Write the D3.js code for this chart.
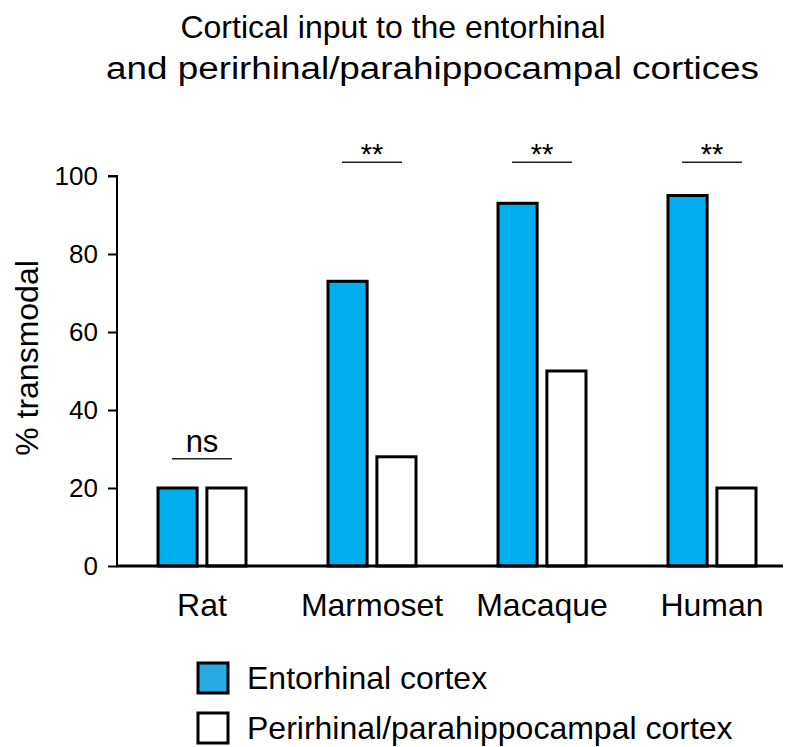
<html>
<head>
<script src="https://cdn.jsdelivr.net/npm/d3@7"></script>
</head>
<body style="margin:0; padding:0; background:#fff;">
<script>
// data
var species = ["Rat", "Marmoset", "Macaque", "Human"];
var series = ["Entorhinal cortex", "Perirhinal/parahippocampal cortex"];
var entorhinal = [20, 73, 93, 95];
var perirhinal = [20, 28, 50, 20];
var sigLabels = ["ns", "**", "**", "**"];
var sigLevel = [27.5, 103.5, 103.5, 103.5];
var yTicks = [0, 20, 40, 60, 80, 100];
var titleLines = ["Cortical input to the entorhinal", "and perirhinal/parahippocampal cortices"];

var width = 787, height = 747;
var font = "'Liberation Sans', Arial, Helvetica, sans-serif";
var fills = ["#00aeef", "#ffffff"];
var legendFills = ["#27aae1", "#ffffff"];

var svg = d3.select("body").append("svg")
	.attr("width", width)
	.attr("height", height)
	.style("font-family", font);

var y = d3.scaleLinear().domain([0, 100]).range([566, 176]);
var x = d3.scalePoint().domain(species).range([117, 797]).padding(0.5);
var xs = d3.scaleBand().domain(series).range([-44, 44]).paddingInner(0.2);

// title (second line is set wider in the original)
svg.append("text")
	.attr("x", 393).attr("y", 38)
	.attr("text-anchor", "middle")
	.style("font-size", "32px")
	.text(titleLines[0]);
svg.append("text")
	.attr("x", 106).attr("y", 79)
	.attr("textLength", 653)
	.attr("lengthAdjust", "spacingAndGlyphs")
	.style("font-size", "31px")
	.text(titleLines[1]);

// y axis
var yAxis = svg.append("g")
	.attr("transform", "translate(117,0)")
	.call(d3.axisLeft(y).tickValues(yTicks).tickSize(9).tickPadding(10));
yAxis.select(".domain").attr("d", "M-9," + y(100) + "H0V" + y(0)).attr("stroke-width", 2);
yAxis.selectAll(".tick line").attr("stroke-width", 2);
yAxis.selectAll(".tick text").style("font-size", "26px").style("font-family", font).attr("fill", "#000");

svg.append("text")
	.attr("transform", "translate(38," + 358 + ") rotate(-90)")
	.attr("text-anchor", "middle")
	.style("font-size", "32px")
	.text("% transmodal");

// bars
var rows = species.map(function (s, i) {
	return { name: s, vals: [entorhinal[i], perirhinal[i]] };
});

var groups = svg.selectAll(".grp").data(rows).enter()
	.append("g")
		.attr("class", "grp")
		.attr("transform", function (d) { return "translate(" + x(d.name) + ",0)"; });

groups.selectAll("rect").data(function (d) {
		return d.vals.map(function (v, j) { return { s: series[j], v: v, j: j }; });
	}).enter()
	.append("rect")
		.attr("x", function (d) { return xs(d.s); })
		.attr("y", function (d) { return y(d.v); })
		.attr("width", xs.bandwidth())
		.attr("height", function (d) { return y(0) - y(d.v); })
		.attr("fill", function (d) { return fills[d.j]; })
		.attr("stroke", "#000")
		.attr("stroke-width", 3);

// baseline
svg.append("line")
	.attr("x1", 116).attr("x2", 783)
	.attr("y1", y(0)).attr("y2", y(0))
	.attr("stroke", "#000").attr("stroke-width", 3);

// category labels
svg.selectAll(".cat").data(species).enter()
	.append("text")
		.attr("class", "cat")
		.attr("x", function (d) { return x(d); })
		.attr("y", 616)
		.attr("text-anchor", "middle")
		.style("font-size", "32px")
		.text(function (d) { return d; });

// significance marks
species.forEach(function (s, i) {
	var cx = x(s);
	svg.append("line")
		.attr("x1", cx - 30).attr("x2", cx + 30)
		.attr("y1", y(sigLevel[i])).attr("y2", y(sigLevel[i]))
		.attr("stroke", "#222").attr("stroke-width", 1.5);
	var t = svg.append("text")
		.attr("x", cx)
		.attr("text-anchor", "middle")
		.text(sigLabels[i]);
	if (sigLabels[i] == "ns") {
		t.attr("y", y(sigLevel[i]) - 7).style("font-size", "31px");
	} else {
		t.attr("y", y(sigLevel[i]) + 2).style("font-size", "29px");
	}
});

// legend
var leg = svg.selectAll(".leg").data(series).enter()
	.append("g")
		.attr("class", "leg")
		.attr("transform", function (d, i) { return "translate(198," + (663 + i * 50) + ")"; });
leg.append("rect")
	.attr("width", 30).attr("height", 30)
	.attr("fill", function (d, i) { return legendFills[i]; })
	.attr("stroke", "#000").attr("stroke-width", 3);
leg.append("text")
	.attr("x", 49)
	.attr("y", 26)
	.style("font-size", "32px")
	.text(function (d) { return d; });
</script>
</body>
</html>
